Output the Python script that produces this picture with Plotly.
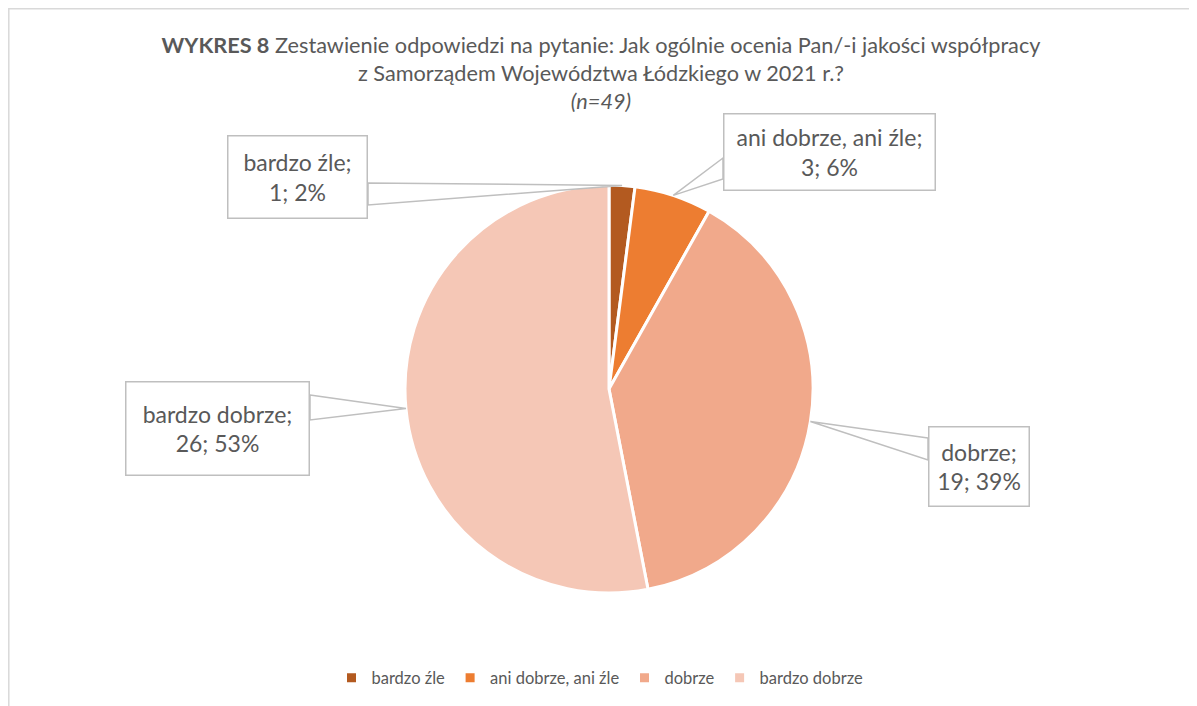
import math
import plotly.graph_objects as go

# ---- data ----
categories = ["bardzo źle", "ani dobrze, ani źle", "dobrze", "bardzo dobrze"]
counts = [1, 3, 19, 26]
percents = [2, 6, 39, 53]
colors = ["#B35A20", "#ED7D31", "#F1A98B", "#F5C7B6"]

W, H = 1197, 706
OFF = 8  # page offset of the plot inside the browser window
FONT = "Lato"
GREY = "#595959"
LINE = "#BFBFBF"

# pie geometry (screen pixels)
cx, cy, r = 609, 389, 204

def px(x):
    return (x - OFF) / W

def py(y):
    return 1 - (y - OFF) / H

fig = go.Figure()
fig.add_trace(go.Pie(
    labels=categories,
    values=counts,
    sort=False,
    direction="clockwise",
    rotation=0,
    marker=dict(colors=colors, line=dict(color="white", width=3)),
    textinfo="none",
    hoverinfo="label+value+percent",
    domain=dict(x=[px(cx - r), px(cx + r)], y=[py(cy + r), py(cy - r)]),
))

# label boxes: (left, top, right, bottom), side where callout attaches, base y-range
boxes = [
    dict(box=(227, 135, 368, 219), side="right", base=(183, 205)),
    dict(box=(723, 113, 936, 191), side="left", base=(158, 179)),
    dict(box=(928, 426, 1030, 507), side="left", base=(438, 460)),
    dict(box=(125, 381, 310, 476), side="right", base=(395, 420)),
]

total = sum(counts)
cum = 0
shapes = []
annotations = []
for i, (cat, v, p) in enumerate(zip(categories, counts, percents)):
    theta = 2 * math.pi * (cum + v / 2) / total
    cum += v
    tx = cx + r * math.sin(theta)
    ty = cy - r * math.cos(theta)
    b = boxes[i]
    l, t, rr, bt = b["box"]
    ex = rr if b["side"] == "right" else l
    y0, y1 = b["base"]
    path = f"M{px(ex)},{py(y0)} L{px(tx)},{py(ty)} L{px(ex)},{py(y1)} Z"
    shapes.append(dict(type="path", xref="paper", yref="paper", path=path,
                       fillcolor="white", line=dict(color=LINE, width=1.5), layer="above"))
    annotations.append(dict(
        x=px((l + rr) / 2), y=py((t + bt) / 2), xref="paper", yref="paper",
        xanchor="center", yanchor="middle", showarrow=False,
        text=f"{cat};<br>{v}; {p}%",
        font=dict(family=FONT, size=23, color=GREY),
        width=rr - l - 3, height=bt - t - 3, align="center", valign="middle",
        bgcolor="white", bordercolor=LINE, borderwidth=1.5, borderpad=0,
    ))

# outer chart border (left and top visible)
shapes.append(dict(type="rect", xref="paper", yref="paper",
                   x0=0.8 / W, y0=-0.05, x1=1.05, y1=1 - 0.8 / H,
                   line=dict(color="#D9D9D9", width=1.5), fillcolor="rgba(0,0,0,0)", layer="below"))

fig.update_layout(
    width=W, height=H,
    margin=dict(l=0, r=0, t=0, b=0),
    paper_bgcolor="white",
    plot_bgcolor="white",
    title=dict(
        text="<b>WYKRES 8</b> Zestawienie odpowiedzi na pytanie: Jak ogólnie ocenia Pan/-i jakości współpracy"
             "<br>z Samorządem Województwa Łódzkiego w 2021 r.?<br><i>(n=49)</i>",
        x=px(601), xanchor="center", y=1 - 45 / H, yanchor="top",
        font=dict(family=FONT, size=21.7, color=GREY),
    ),
    legend=dict(orientation="h", x=px(600), xanchor="center", y=py(678), yanchor="middle",
                font=dict(family=FONT, size=16.5, color=GREY), traceorder="normal"),
    shapes=shapes,
    annotations=annotations,
)

fig.write_html("out.html")
